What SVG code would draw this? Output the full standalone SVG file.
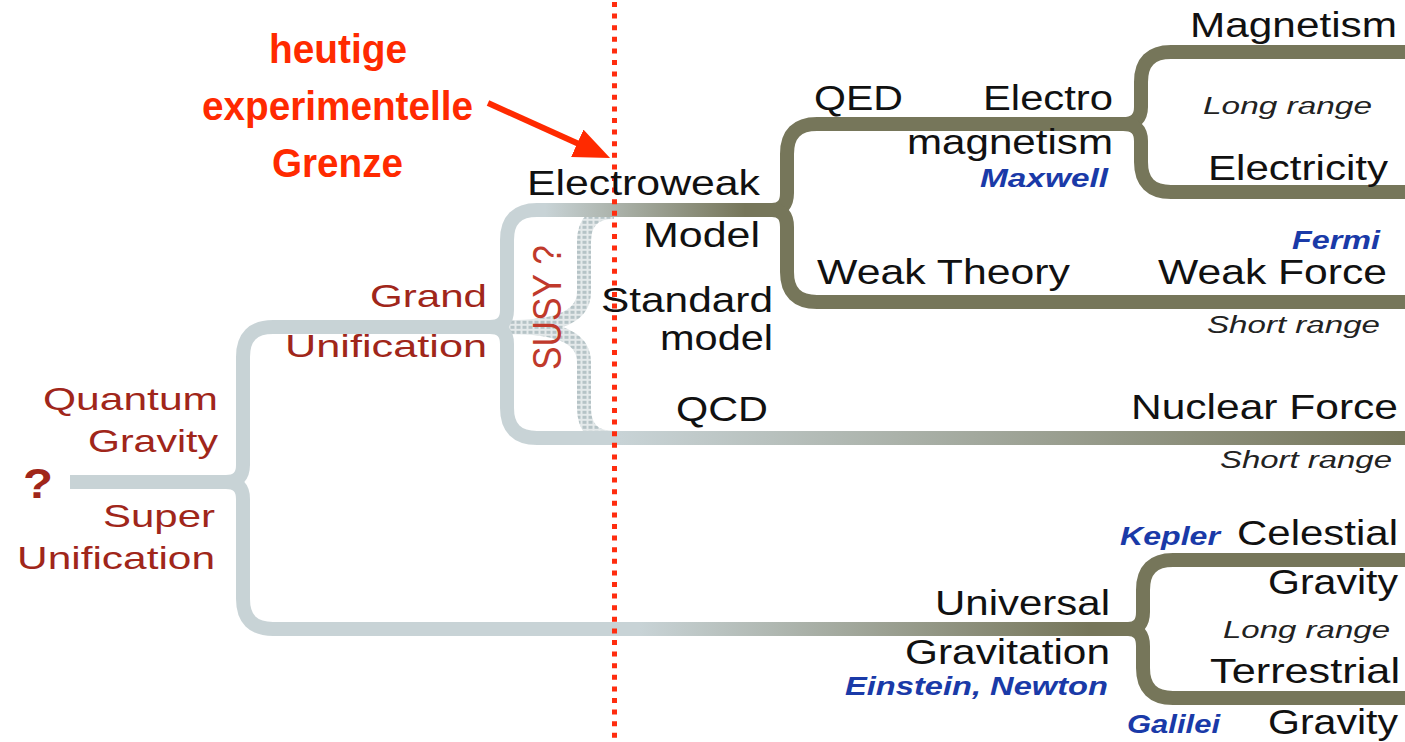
<svg xmlns="http://www.w3.org/2000/svg" width="1405" height="742" viewBox="0 0 1405 742">
<style>
text{font-family:"Liberation Sans",Arial,sans-serif}
.b{font-size:35px;fill:#111}
.r{font-size:32px;fill:#a0261a}
.h{font-size:40px;font-weight:bold;fill:#ff2a00}
.i{font-size:23px;font-style:italic;fill:#222}
.n{font-size:25px;font-style:italic;font-weight:bold;fill:#1a3aa8}
.ln{fill:none;stroke-width:14;stroke-linejoin:round}
.ol{stroke:#76765a}
</style>
<defs>
<linearGradient id="gEW" gradientUnits="userSpaceOnUse" x1="545" y1="0" x2="745" y2="0"><stop offset="0" stop-color="#c8d3d6"/><stop offset="1" stop-color="#76765a"/></linearGradient>
<linearGradient id="gQCD" gradientUnits="userSpaceOnUse" x1="620" y1="0" x2="1400" y2="0"><stop offset="0" stop-color="#c8d3d6"/><stop offset="1" stop-color="#76765a"/></linearGradient>
<linearGradient id="gUG" gradientUnits="userSpaceOnUse" x1="640" y1="0" x2="1090" y2="0"><stop offset="0" stop-color="#c8d3d6"/><stop offset="1" stop-color="#76765a"/></linearGradient>
<pattern id="dots" patternUnits="userSpaceOnUse" width="6" height="5"><rect width="6" height="5" fill="#e4e9ea"/><rect x="0.5" y="0.8" width="4" height="3" fill="#b5c3c6"/></pattern>
<marker id="ah" markerUnits="userSpaceOnUse" viewBox="0 0 36 30" refX="3" refY="15" markerWidth="36" markerHeight="30" orient="auto"><path d="M0,0 L36,15 L0,30 z" fill="#ff2a00"/></marker>
</defs>
<g id="connectors">
<path class="ln" stroke="url(#dots)" d="M507,327 C545,327 584,322 584,292 V242 Q584,212 614,212 M507,327 C545,327 584,332 584,362 V408 Q584,438 614,438"/>
<path class="ln" stroke="url(#gEW)" d="M70,482 H226 Q243,482 243,465 V357 Q243,327 273,327 H490 Q507,327 507,310 V240 Q507,210 537,210 H772"/>
<path class="ln" stroke="url(#gUG)" d="M226,482 Q243,482 243,499 V599 Q243,629 273,629 H1128"/>
<path class="ln" stroke="url(#gQCD)" d="M490,327 Q507,327 507,344 V408 Q507,438 537,438 H1405"/>
<path class="ln ol" d="M772,210 Q787,210 787,193 V154 Q787,124 817,124 H1123 Q1141,124 1141,107 V82 Q1141,52 1171,52 H1405"/>
<path class="ln ol" d="M772,210 Q787,210 787,227 V272 Q787,302 817,302 H1405"/>
<path class="ln ol" d="M1123,124 Q1141,124 1141,141 V162 Q1141,192 1171,192 H1405"/>
<path class="ln ol" d="M1128,629 Q1143,629 1143,612 V590 Q1143,560 1173,560 H1405 M1128,629 Q1143,629 1143,646 V668 Q1143,698 1173,698 H1405"/>
<line x1="614.5" y1="2" x2="614.5" y2="742" stroke="#ff2d0f" stroke-width="5" stroke-dasharray="5 6.6"/>
<line x1="488" y1="103" x2="580" y2="144.5" stroke="#ff2a00" stroke-width="6" marker-end="url(#ah)"/>
</g>
<g id="limit"><text class="h" x="269" y="63" textLength="138" lengthAdjust="spacingAndGlyphs">heutige</text><text class="h" x="202" y="120" textLength="271" lengthAdjust="spacingAndGlyphs">experimentelle</text><text class="h" x="272" y="177" textLength="131" lengthAdjust="spacingAndGlyphs">Grenze</text></g>
<g id="root"><text x="23" y="498" font-size="43" font-weight="bold" fill="#a0261a" textLength="30" lengthAdjust="spacingAndGlyphs">?</text></g>
<g id="quantum-gravity"><text class="r" x="43" y="410" textLength="175" lengthAdjust="spacingAndGlyphs">Quantum</text><text class="r" x="88" y="452" textLength="130" lengthAdjust="spacingAndGlyphs">Gravity</text></g>
<g id="super-unification"><text class="r" x="103" y="527" textLength="112" lengthAdjust="spacingAndGlyphs">Super</text><text class="r" x="17" y="569" textLength="198" lengthAdjust="spacingAndGlyphs">Unification</text></g>
<g id="grand-unification"><text class="r" x="370" y="307" textLength="117" lengthAdjust="spacingAndGlyphs">Grand</text><text class="r" x="285" y="357" textLength="202" lengthAdjust="spacingAndGlyphs">Unification</text></g>
<g id="susy"><text transform="translate(561,370) rotate(-90)" font-size="40" fill="#c0392b" textLength="125" lengthAdjust="spacingAndGlyphs">SUSY ?</text></g>
<g id="electroweak"><text class="b" x="527" y="195" textLength="233" lengthAdjust="spacingAndGlyphs">Electroweak</text><text class="b" x="643" y="247" textLength="117" lengthAdjust="spacingAndGlyphs">Model</text></g>
<g id="standard-model"><text class="b" x="601" y="312" textLength="172" lengthAdjust="spacingAndGlyphs">Standard</text><text class="b" x="660" y="350" textLength="113" lengthAdjust="spacingAndGlyphs">model</text></g>
<g id="qed"><text class="b" x="814" y="110" textLength="89" lengthAdjust="spacingAndGlyphs">QED</text></g>
<g id="electromagnetism"><text class="b" x="983" y="110" textLength="130" lengthAdjust="spacingAndGlyphs">Electro</text><text class="b" x="907" y="154" textLength="206" lengthAdjust="spacingAndGlyphs">magnetism</text><text class="n" x="980" y="187" textLength="128" lengthAdjust="spacingAndGlyphs">Maxwell</text></g>
<g id="magnetism"><text class="b" x="1190" y="37" textLength="207" lengthAdjust="spacingAndGlyphs">Magnetism</text><text class="i" x="1203" y="114" textLength="169" lengthAdjust="spacingAndGlyphs">Long range</text></g>
<g id="electricity"><text class="b" x="1208" y="180" textLength="180" lengthAdjust="spacingAndGlyphs">Electricity</text></g>
<g id="weak-theory"><text class="b" x="817" y="284" textLength="253" lengthAdjust="spacingAndGlyphs">Weak Theory</text></g>
<g id="weak-force"><text class="n" x="1292" y="249" font-size="24" textLength="88" lengthAdjust="spacingAndGlyphs">Fermi</text><text class="b" x="1158" y="284" textLength="229" lengthAdjust="spacingAndGlyphs">Weak Force</text><text class="i" x="1207" y="333" textLength="173" lengthAdjust="spacingAndGlyphs">Short range</text></g>
<g id="qcd"><text class="b" x="676" y="421" textLength="92" lengthAdjust="spacingAndGlyphs">QCD</text></g>
<g id="nuclear-force"><text class="b" x="1131" y="419" textLength="267" lengthAdjust="spacingAndGlyphs">Nuclear Force</text><text class="i" x="1220" y="468" textLength="172" lengthAdjust="spacingAndGlyphs">Short range</text></g>
<g id="universal-gravitation"><text class="b" x="935" y="615" textLength="175" lengthAdjust="spacingAndGlyphs">Universal</text><text class="b" x="905" y="664" textLength="205" lengthAdjust="spacingAndGlyphs">Gravitation</text><text class="n" x="845" y="695" textLength="263" lengthAdjust="spacingAndGlyphs">Einstein, Newton</text></g>
<g id="celestial-gravity"><text class="n" x="1120" y="545" textLength="100" lengthAdjust="spacingAndGlyphs">Kepler</text><text class="b" x="1237" y="545" textLength="161" lengthAdjust="spacingAndGlyphs">Celestial</text><text class="b" x="1268" y="594" textLength="130" lengthAdjust="spacingAndGlyphs">Gravity</text><text class="i" x="1223" y="638" textLength="167" lengthAdjust="spacingAndGlyphs">Long range</text></g>
<g id="terrestrial-gravity"><text class="b" x="1210" y="683" textLength="190" lengthAdjust="spacingAndGlyphs">Terrestrial</text><text class="n" x="1127" y="733" textLength="93" lengthAdjust="spacingAndGlyphs">Galilei</text><text class="b" x="1268" y="734" textLength="130" lengthAdjust="spacingAndGlyphs">Gravity</text></g>
</svg>
